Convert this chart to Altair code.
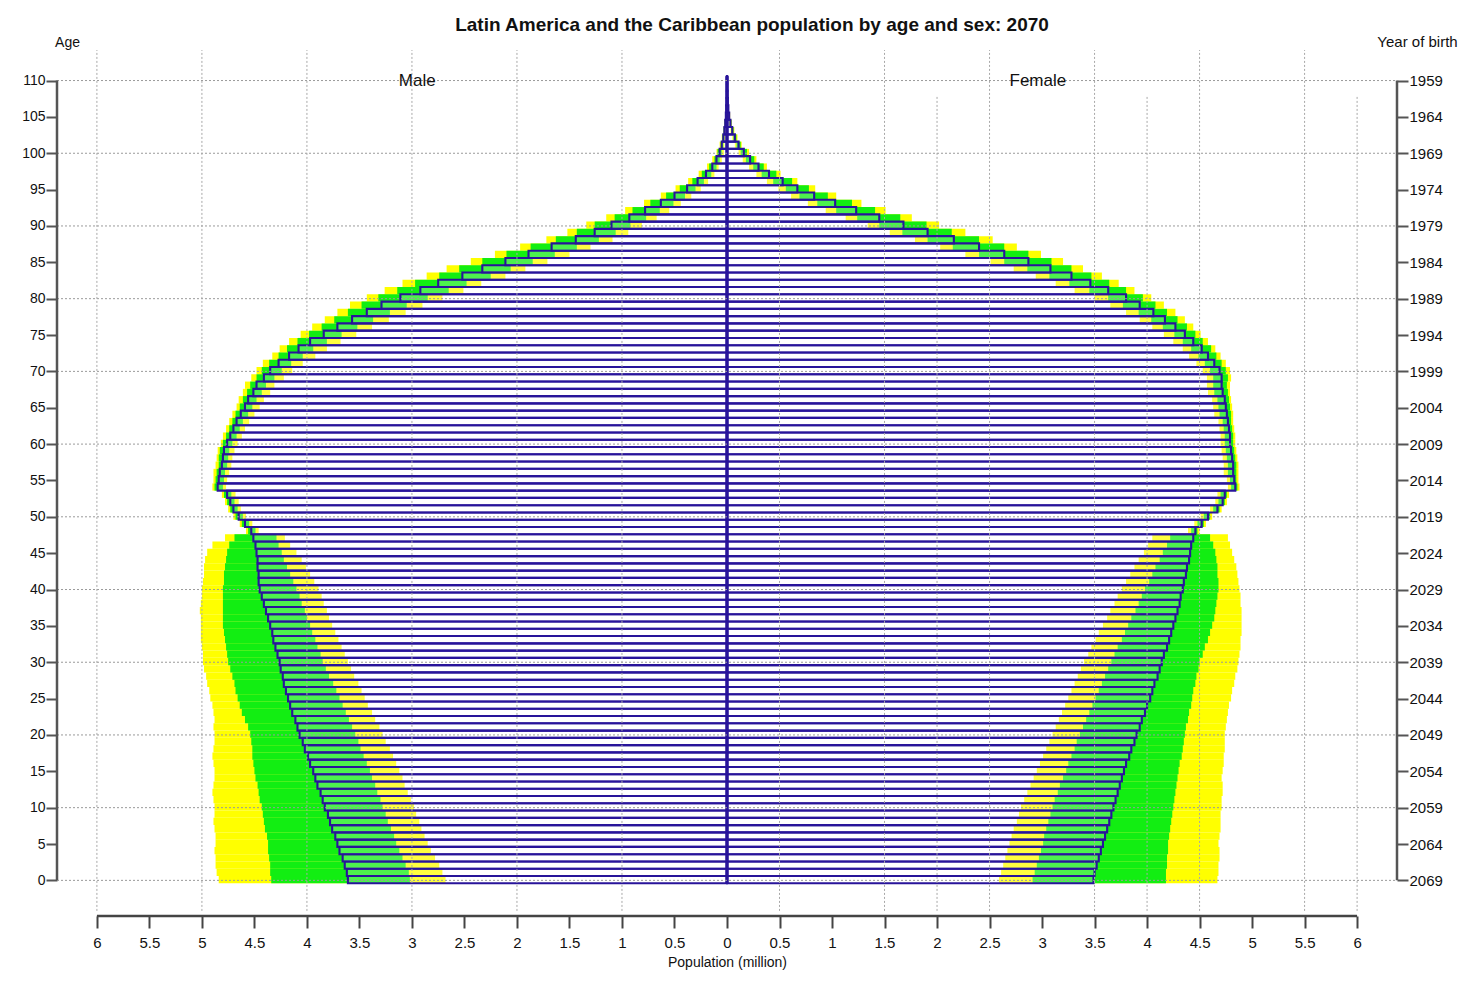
import altair as alt
import pandas as pd

ages = list(range(111))

male_median = [
    3.61, 3.62, 3.64, 3.66, 3.69, 3.71, 3.73, 3.76, 3.78, 3.80,
    3.83, 3.85, 3.87, 3.90, 3.92, 3.94, 3.97, 3.99, 4.02, 4.04,
    4.07, 4.09, 4.11, 4.14, 4.16, 4.18, 4.20, 4.22, 4.23, 4.25,
    4.26, 4.28, 4.30, 4.32, 4.33, 4.35, 4.37, 4.39, 4.41, 4.43,
    4.45, 4.46, 4.46, 4.47, 4.47, 4.48, 4.49, 4.51, 4.53, 4.59,
    4.65, 4.70, 4.73, 4.76, 4.85, 4.84, 4.83, 4.81, 4.80, 4.79,
    4.76, 4.73, 4.70, 4.67, 4.63, 4.59, 4.56, 4.51, 4.48, 4.41,
    4.35, 4.27, 4.17, 4.08, 3.97, 3.84, 3.71, 3.57, 3.43, 3.29,
    3.11, 2.92, 2.75, 2.52, 2.33, 2.11, 1.89, 1.67, 1.44, 1.26,
    1.10, 0.93, 0.78, 0.63, 0.50, 0.38, 0.28, 0.20, 0.14, 0.10,
    0.07, 0.05, 0.035, 0.025, 0.017, 0.011, 0.007, 0.004, 0.002, 0.001, 0.001]

male_hi95 = [
    4.84, 4.86, 4.87, 4.87, 4.88, 4.87, 4.87, 4.88, 4.89, 4.88,
    4.88, 4.89, 4.90, 4.89, 4.88, 4.88, 4.89, 4.90, 4.89, 4.88,
    4.88, 4.89, 4.88, 4.89, 4.90, 4.92, 4.93, 4.95, 4.96, 4.98,
    4.99, 4.99, 5.00, 5.01, 5.01, 5.01, 5.01, 5.02, 5.01, 5.00,
    5.00, 4.99, 4.98, 4.98, 4.97, 4.95, 4.90, 4.78, 4.58, 4.64,
    4.70, 4.75, 4.78, 4.81, 4.90, 4.89, 4.89, 4.87, 4.86, 4.85,
    4.82, 4.80, 4.77, 4.74, 4.71, 4.67, 4.65, 4.61, 4.59, 4.53,
    4.48, 4.42, 4.33, 4.26, 4.17, 4.06, 3.95, 3.83, 3.71, 3.59,
    3.43, 3.26, 3.09, 2.86, 2.67, 2.44, 2.21, 1.97, 1.72, 1.52,
    1.34, 1.15, 0.97, 0.79, 0.63, 0.49, 0.37, 0.27, 0.19, 0.14,
    0.10, 0.07, 0.05, 0.035, 0.025, 0.016, 0.010, 0.006, 0.003, 0.002, 0.002]

male_hi80 = [
    4.34, 4.35, 4.35, 4.36, 4.37, 4.37, 4.38, 4.40, 4.41, 4.42,
    4.43, 4.45, 4.46, 4.47, 4.49, 4.50, 4.51, 4.52, 4.52, 4.53,
    4.54, 4.56, 4.59, 4.62, 4.64, 4.66, 4.68, 4.69, 4.71, 4.73,
    4.75, 4.76, 4.77, 4.78, 4.79, 4.80, 4.80, 4.80, 4.80, 4.80,
    4.80, 4.79, 4.79, 4.78, 4.77, 4.76, 4.74, 4.69, 4.56, 4.62,
    4.68, 4.73, 4.76, 4.79, 4.88, 4.87, 4.86, 4.84, 4.84, 4.83,
    4.80, 4.77, 4.74, 4.71, 4.68, 4.64, 4.61, 4.57, 4.54, 4.48,
    4.43, 4.36, 4.27, 4.19, 4.09, 3.98, 3.86, 3.74, 3.61, 3.48,
    3.32, 3.14, 2.97, 2.74, 2.55, 2.33, 2.10, 1.87, 1.63, 1.43,
    1.26, 1.07, 0.90, 0.73, 0.58, 0.45, 0.33, 0.24, 0.17, 0.12,
    0.09, 0.06, 0.045, 0.032, 0.022, 0.014, 0.009, 0.005, 0.003, 0.002, 0.002]

male_lo80 = [
    3.02, 3.03, 3.06, 3.09, 3.12, 3.15, 3.17, 3.20, 3.23, 3.25,
    3.28, 3.30, 3.33, 3.35, 3.38, 3.40, 3.43, 3.46, 3.49, 3.51,
    3.54, 3.57, 3.60, 3.63, 3.66, 3.69, 3.72, 3.75, 3.79, 3.82,
    3.85, 3.87, 3.90, 3.92, 3.95, 3.97, 4.00, 4.02, 4.05, 4.07,
    4.10, 4.13, 4.16, 4.19, 4.22, 4.24, 4.27, 4.29, 4.49, 4.55,
    4.61, 4.66, 4.69, 4.72, 4.80, 4.79, 4.78, 4.76, 4.75, 4.74,
    4.71, 4.67, 4.64, 4.61, 4.56, 4.52, 4.48, 4.43, 4.39, 4.31,
    4.24, 4.15, 4.04, 3.94, 3.81, 3.67, 3.52, 3.37, 3.21, 3.05,
    2.85, 2.65, 2.48, 2.25, 2.06, 1.85, 1.64, 1.43, 1.22, 1.06,
    0.92, 0.77, 0.64, 0.51, 0.40, 0.30, 0.22, 0.15, 0.10, 0.07,
    0.05, 0.035, 0.025, 0.018, 0.012, 0.008, 0.005, 0.003, 0.001, 0.0005, 0.0005]

male_lo95 = [
    2.68, 2.71, 2.74, 2.78, 2.82, 2.85, 2.88, 2.91, 2.93, 2.96,
    2.98, 3.01, 3.04, 3.07, 3.09, 3.12, 3.15, 3.18, 3.21, 3.25,
    3.28, 3.31, 3.35, 3.38, 3.42, 3.45, 3.48, 3.51, 3.55, 3.58,
    3.61, 3.64, 3.67, 3.70, 3.73, 3.76, 3.79, 3.81, 3.84, 3.86,
    3.89, 3.93, 3.97, 4.01, 4.05, 4.10, 4.16, 4.21, 4.46, 4.52,
    4.58, 4.63, 4.65, 4.68, 4.77, 4.76, 4.74, 4.72, 4.71, 4.69,
    4.66, 4.62, 4.59, 4.55, 4.50, 4.45, 4.41, 4.35, 4.31, 4.22,
    4.14, 4.04, 3.92, 3.81, 3.68, 3.53, 3.38, 3.22, 3.06, 2.90,
    2.71, 2.51, 2.34, 2.11, 1.92, 1.71, 1.50, 1.30, 1.09, 0.94,
    0.81, 0.67, 0.55, 0.44, 0.34, 0.25, 0.18, 0.12, 0.08, 0.05,
    0.03, 0.025, 0.018, 0.012, 0.008, 0.005, 0.003, 0.002, 0.001, 0.0, 0.0]

female_median = [
    3.49, 3.50, 3.52, 3.54, 3.56, 3.58, 3.60, 3.62, 3.64, 3.66,
    3.68, 3.70, 3.72, 3.74, 3.76, 3.78, 3.80, 3.83, 3.85, 3.88,
    3.90, 3.93, 3.95, 3.98, 4.00, 4.03, 4.05, 4.07, 4.10, 4.12,
    4.14, 4.16, 4.19, 4.21, 4.23, 4.25, 4.27, 4.29, 4.31, 4.32,
    4.34, 4.35, 4.37, 4.38, 4.40, 4.41, 4.42, 4.44, 4.46, 4.52,
    4.58, 4.67, 4.72, 4.74, 4.84, 4.83, 4.82, 4.82, 4.81, 4.80,
    4.79, 4.79, 4.78, 4.77, 4.76, 4.75, 4.74, 4.72, 4.71, 4.71,
    4.69, 4.64, 4.58, 4.52, 4.44, 4.36, 4.27, 4.17, 4.06, 3.93,
    3.80, 3.63, 3.46, 3.28, 3.08, 2.87, 2.64, 2.40, 2.16, 1.91,
    1.68, 1.45, 1.23, 1.03, 0.83, 0.67, 0.53, 0.40, 0.30, 0.22,
    0.16, 0.11, 0.075, 0.05, 0.033, 0.021, 0.013, 0.008, 0.005, 0.003, 0.002]

female_hi95 = [
    4.67, 4.68, 4.68, 4.69, 4.69, 4.68, 4.69, 4.70, 4.70, 4.70,
    4.71, 4.71, 4.72, 4.72, 4.71, 4.72, 4.73, 4.73, 4.74, 4.74,
    4.74, 4.75, 4.76, 4.77, 4.78, 4.80, 4.81, 4.83, 4.84, 4.86,
    4.87, 4.88, 4.89, 4.89, 4.90, 4.90, 4.90, 4.90, 4.89, 4.89,
    4.88, 4.87, 4.86, 4.85, 4.83, 4.81, 4.79, 4.77, 4.50, 4.56,
    4.62, 4.71, 4.76, 4.78, 4.88, 4.87, 4.87, 4.87, 4.86, 4.85,
    4.84, 4.84, 4.83, 4.82, 4.82, 4.81, 4.80, 4.79, 4.79, 4.80,
    4.79, 4.75, 4.70, 4.65, 4.58, 4.51, 4.44, 4.36, 4.27, 4.16,
    4.04, 3.88, 3.73, 3.57, 3.39, 3.20, 2.99, 2.76, 2.53, 2.27,
    2.02, 1.76, 1.51, 1.28, 1.04, 0.84, 0.67, 0.51, 0.38, 0.28,
    0.21, 0.14, 0.10, 0.07, 0.045, 0.03, 0.018, 0.011, 0.007, 0.004, 0.003]

female_hi80 = [
    4.18, 4.18, 4.19, 4.19, 4.20, 4.20, 4.21, 4.22, 4.23, 4.24,
    4.25, 4.26, 4.27, 4.28, 4.29, 4.30, 4.31, 4.33, 4.34, 4.35,
    4.36, 4.37, 4.39, 4.40, 4.42, 4.43, 4.44, 4.46, 4.47, 4.49,
    4.50, 4.53, 4.55, 4.58, 4.60, 4.62, 4.64, 4.65, 4.66, 4.67,
    4.68, 4.68, 4.67, 4.67, 4.66, 4.65, 4.63, 4.60, 4.48, 4.54,
    4.60, 4.69, 4.74, 4.76, 4.86, 4.85, 4.85, 4.85, 4.84, 4.83,
    4.82, 4.82, 4.81, 4.80, 4.80, 4.79, 4.78, 4.77, 4.76, 4.77,
    4.75, 4.71, 4.66, 4.61, 4.53, 4.46, 4.38, 4.29, 4.19, 4.08,
    3.96, 3.80, 3.64, 3.47, 3.28, 3.09, 2.87, 2.64, 2.40, 2.14,
    1.90, 1.65, 1.41, 1.19, 0.96, 0.78, 0.62, 0.47, 0.35, 0.26,
    0.19, 0.13, 0.09, 0.062, 0.041, 0.027, 0.016, 0.010, 0.006, 0.0035, 0.0025]

female_lo80 = [
    2.91, 2.93, 2.95, 2.97, 2.99, 3.01, 3.02, 3.04, 3.06, 3.08,
    3.10, 3.12, 3.15, 3.17, 3.20, 3.23, 3.25, 3.28, 3.31, 3.33,
    3.36, 3.39, 3.42, 3.45, 3.48, 3.51, 3.54, 3.57, 3.60, 3.63,
    3.66, 3.69, 3.72, 3.76, 3.79, 3.82, 3.85, 3.89, 3.92, 3.95,
    3.98, 4.02, 4.05, 4.08, 4.12, 4.15, 4.19, 4.22, 4.42, 4.48,
    4.54, 4.63, 4.68, 4.70, 4.80, 4.79, 4.77, 4.77, 4.76, 4.75,
    4.74, 4.74, 4.73, 4.72, 4.69, 4.68, 4.67, 4.64, 4.63, 4.63,
    4.60, 4.55, 4.49, 4.42, 4.34, 4.26, 4.15, 4.04, 3.92, 3.77,
    3.63, 3.45, 3.26, 3.07, 2.86, 2.64, 2.40, 2.15, 1.91, 1.67,
    1.45, 1.24, 1.04, 0.86, 0.69, 0.56, 0.44, 0.33, 0.25, 0.18,
    0.13, 0.09, 0.06, 0.04, 0.026, 0.016, 0.010, 0.006, 0.004, 0.002, 0.0015]

female_lo95 = [
    2.59, 2.61, 2.63, 2.65, 2.67, 2.69, 2.71, 2.73, 2.76, 2.78,
    2.80, 2.83, 2.86, 2.89, 2.92, 2.95, 2.98, 3.01, 3.04, 3.07,
    3.10, 3.13, 3.16, 3.19, 3.22, 3.25, 3.28, 3.31, 3.34, 3.37,
    3.40, 3.44, 3.47, 3.51, 3.54, 3.58, 3.62, 3.65, 3.69, 3.72,
    3.76, 3.80, 3.84, 3.88, 3.92, 3.97, 4.01, 4.05, 4.39, 4.45,
    4.51, 4.60, 4.65, 4.67, 4.77, 4.76, 4.73, 4.73, 4.72, 4.71,
    4.70, 4.70, 4.69, 4.68, 4.64, 4.63, 4.62, 4.58, 4.57, 4.57,
    4.53, 4.47, 4.40, 4.34, 4.25, 4.16, 4.05, 3.93, 3.80, 3.65,
    3.50, 3.31, 3.13, 2.94, 2.73, 2.51, 2.27, 2.03, 1.79, 1.55,
    1.34, 1.13, 0.94, 0.77, 0.61, 0.49, 0.38, 0.28, 0.21, 0.15,
    0.11, 0.075, 0.05, 0.033, 0.021, 0.013, 0.008, 0.005, 0.003, 0.0015, 0.001]

age_ticks = list(range(0, 111, 5))
grid_ages = list(range(0, 111, 10))
pop_ticks = [v / 2 for v in range(-12, 13)]
grid_x_full = [-6, -5, -4, -3, -2, -1, 0.5, 1.5, 2.5, 3.5, 4.5, 5.5]
grid_x_short = [2, 4, 6]
side_labels = ["Male", "Female"]
side_label_x = [-2.95, 2.96]

for arr in [male_median, male_hi95, male_hi80, male_lo80, male_lo95,
            female_median, female_hi95, female_hi80, female_lo80, female_lo95]:
    assert len(arr) == len(ages), len(arr)

# ---- build table ----
rows = []
for i, a in enumerate(ages):
    rows.append(dict(sex="Male", age=a, zero=0.0,
                     m=-male_median[i], h95=-male_hi95[i], l95=-male_lo95[i],
                     h80=-male_hi80[i], l80=-male_lo80[i]))
    rows.append(dict(sex="Female", age=a, zero=0.0,
                     m=female_median[i], h95=female_hi95[i], l95=female_lo95[i],
                     h80=female_hi80[i], l80=female_lo80[i]))
df = pd.DataFrame(rows)
df["y0"] = df["age"] - 0.4
df["y1"] = df["age"] + 0.6

XMIN, XMAX = -6.38, 6.38
YMIN, YMAX = -4.9, 114.2
xs = alt.Scale(domain=[XMIN, XMAX], nice=False, zero=False)
ys = alt.Scale(domain=[YMIN, YMAX], nice=False, zero=False)

FONT = "Liberation Sans"
BLUE = "#28149a"
LBL = 15

base = alt.Chart(df)
ybar = alt.Y("y0:Q", scale=ys, axis=None)

yellow = base.mark_rect(color="#ffff00").encode(
    x=alt.X("h95:Q", scale=xs, axis=None), x2="l95:Q", y=ybar, y2="y1:Q")
green = base.mark_rect(color="#12ee12").encode(
    x=alt.X("h80:Q", scale=xs, axis=None), x2="l80:Q", y=ybar, y2="y1:Q")
bars = base.mark_rect(fill="white", fillOpacity=0.25, stroke=BLUE,
                      strokeWidth=2.1).encode(
    x=alt.X("zero:Q", scale=xs, axis=None), x2="m:Q", y=ybar, y2="y1:Q")
center = base.mark_rule(color=BLUE, strokeWidth=3).encode(
    x=alt.X("zero:Q", scale=xs, axis=None), y=ybar, y2="y1:Q")

# grid lines
hgrid_df = pd.DataFrame({"age": grid_ages, "xa": XMIN, "xb": XMAX})
hgrid = alt.Chart(hgrid_df).mark_rule(color="#9a9a9a", strokeDash=[2, 2],
                                      strokeWidth=1).encode(
    x=alt.X("xa:Q", scale=xs, axis=None), x2="xb:Q",
    y=alt.Y("age:Q", scale=ys, axis=None))

vg = [{"x": v, "top": YMAX} for v in grid_x_full] + \
     [{"x": v, "top": 108.0} for v in grid_x_short]
vgrid_df = pd.DataFrame(vg)
vgrid_df["bot"] = -4.2
vgrid = alt.Chart(vgrid_df).mark_rule(color="#a8a8a8", strokeDash=[2, 2],
                                      strokeWidth=1).encode(
    x=alt.X("x:Q", scale=xs, axis=None),
    y=alt.Y("bot:Q", scale=ys, axis=None), y2="top:Q")

# axes
left_df = pd.DataFrame({"x": [XMIN], "lo": [0], "hi": [110]})
left_axis = alt.Chart(left_df).mark_rule(color="#555555", strokeWidth=2.5).encode(
    x=alt.X("x:Q", scale=xs, axis=None),
    y=alt.Y("lo:Q", scale=ys, axis=alt.Axis(
        orient="left", values=age_ticks, domain=False, grid=False,
        tickSize=11, tickWidth=2, tickColor="#555555",
        labelFont=FONT, labelFontSize=14, labelColor="#111111",
        labelPadding=1, labelFlush=False, labelOverlap=False,
        title="Age", titleFont=FONT, titleFontSize=14,
        titleFontWeight="normal", titleAngle=0, titleAlign="center",
        titleBaseline="alphabetic", titleX=10, titleY=-4,
        titleColor="#111111")),
    y2="hi:Q")

right_df = pd.DataFrame({"x": [XMAX], "lo": [0], "hi": [110]})
right_axis = alt.Chart(right_df).mark_rule(color="#555555", strokeWidth=2.5).encode(
    x=alt.X("x:Q", scale=xs, axis=None),
    y=alt.Y("lo:Q", scale=ys, axis=alt.Axis(
        orient="right", values=age_ticks, domain=False, grid=False,
        tickSize=11, tickWidth=2, tickColor="#555555",
        labelExpr="2069 - datum.value",
        labelFont=FONT, labelFontSize=LBL, labelColor="#111111",
        labelPadding=1, labelFlush=False, labelOverlap=False,
        title="Year of birth", titleFont=FONT, titleFontSize=15,
        titleFontWeight="normal", titleAngle=0, titleAlign="center",
        titleBaseline="alphabetic", titleX=20, titleY=-4,
        titleColor="#111111")),
    y2="hi:Q")

bottom_df = pd.DataFrame({"xa": [-6.0], "xb": [6.0], "y": [YMIN]})
bottom_axis = alt.Chart(bottom_df).mark_rule(color="#444444", strokeWidth=2.5).encode(
    x=alt.X("xa:Q", scale=xs, axis=alt.Axis(
        orient="bottom", values=pop_ticks, domain=False, grid=False,
        tickSize=12, tickWidth=2, tickColor="#444444",
        labelExpr="abs(datum.value) + ''",
        labelFont=FONT, labelFontSize=LBL, labelColor="#111111",
        labelPadding=7, labelFlush=False, labelOverlap=False,
        title="Population (million)", titleFont=FONT, titleFontSize=14,
        titleFontWeight="normal", titlePadding=5, titleColor="#111111")),
    x2="xb:Q",
    y=alt.Y("y:Q", scale=ys, axis=None))

lab_df = pd.DataFrame({"t": side_labels, "x": side_label_x, "y": [110, 110]})
labels = alt.Chart(lab_df).mark_text(font=FONT, fontSize=17, color="#111111",
                                     align="center", baseline="middle").encode(
    x=alt.X("x:Q", scale=xs, axis=None),
    y=alt.Y("y:Q", scale=ys, axis=None),
    text="t:N")

chart = alt.layer(
    bottom_axis, yellow, green, bars, center, hgrid, vgrid,
    left_axis, right_axis, labels
).resolve_axis(x="independent", y="independent").properties(
    width=1340, height=866,
    padding={"left": 49, "top": 42, "right": 63, "bottom": 54},
    autosize=alt.AutoSizeParams(type="none"),
    background="white",
    title=alt.TitleParams(
        "Latin America and the Caribbean population by age and sex: 2070",
        font=FONT, fontSize=19, fontWeight="bold", color="#111111",
        anchor="middle", dx=25, offset=-16, baseline="alphabetic"),
).configure_view(stroke=None)

chart.save("out.html", embed_options={"renderer": "svg", "actions": False})
